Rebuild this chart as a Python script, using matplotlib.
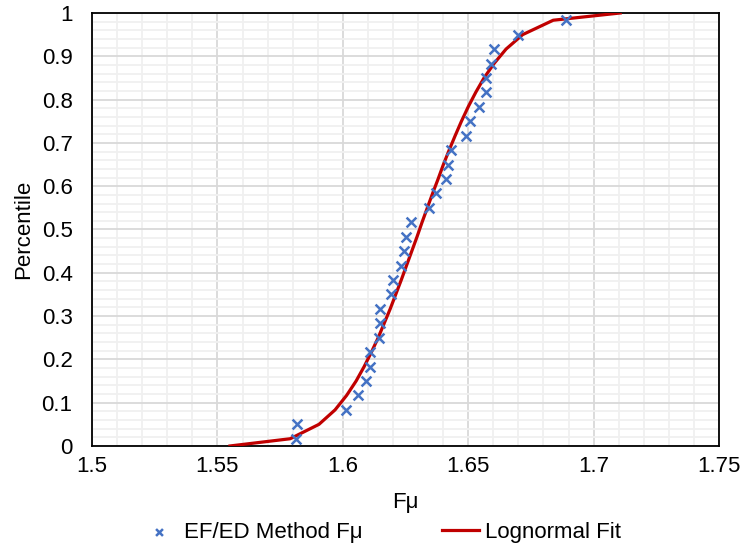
import matplotlib
matplotlib.use("Agg")
import matplotlib.pyplot as plt
from matplotlib.ticker import MultipleLocator

plt.rcParams['font.family'] = ['Liberation Sans', 'DejaVu Sans']

# EF/ED method points
data_fmu = [1.5814, 1.5818, 1.6012, 1.6060, 1.6093, 1.6109, 1.6110, 1.6144, 1.6149, 1.6149,
            1.6193, 1.6201, 1.6233, 1.6242, 1.6250, 1.6272, 1.6342, 1.6371, 1.6412, 1.6421,
            1.6432, 1.6493, 1.6509, 1.6542, 1.6572, 1.6572, 1.6592, 1.6601, 1.6698, 1.6891]
data_pct = [0.0167, 0.05, 0.0833, 0.1167, 0.15, 0.1833, 0.2167, 0.25, 0.2833, 0.3167,
            0.35, 0.3833, 0.4167, 0.45, 0.4833, 0.5167, 0.55, 0.5833, 0.6167, 0.65,
            0.6833, 0.7167, 0.75, 0.7833, 0.8167, 0.85, 0.8833, 0.9167, 0.95, 0.9833]

# lognormal fit line
fit_fmu = [1.555, 1.5790, 1.5905, 1.5969, 1.6015, 1.6053, 1.6085, 1.6114, 1.6141, 1.6165,
           1.6189, 1.6211, 1.6233, 1.6254, 1.6275, 1.6296, 1.6316, 1.6337, 1.6358, 1.6380,
           1.6401, 1.6424, 1.6448, 1.6473, 1.6500, 1.6530, 1.6563, 1.6603, 1.6651, 1.6717,
           1.6839, 1.7106]
fit_pct = [0.0] + data_pct + [1.0]

fig = plt.figure(figsize=(7.41, 5.46), dpi=100)
ax = fig.add_axes([0.1242, 0.1832, 0.8461, 0.793])

ax.plot(fit_fmu, fit_pct, color='#C00000', lw=2.3, label='Lognormal Fit', zorder=3)
ax.scatter(data_fmu, data_pct, marker='x', s=50, color='#4472C4', linewidths=1.8,
           label='EF/ED Method F\u03bc', zorder=4)

ax.set_xlim(1.5, 1.75)
ax.set_ylim(0, 1)
ax.xaxis.set_minor_locator(MultipleLocator(0.01))
ax.yaxis.set_minor_locator(MultipleLocator(0.02))
ax.set_xticks([1.5, 1.55, 1.6, 1.65, 1.7, 1.75], ['1.5', '1.55', '1.6', '1.65', '1.7', '1.75'])
ax.set_yticks([0, 0.1, 0.2, 0.3, 0.4, 0.5, 0.6, 0.7, 0.8, 0.9, 1.0],
              ['0', '0.1', '0.2', '0.3', '0.4', '0.5', '0.6', '0.7', '0.8', '0.9', '1'])
ax.grid(which='major', color='#D9D9D9', lw=1.3)
ax.grid(which='minor', color='#F0F0F0', lw=1.3)
ax.set_axisbelow(True)
ax.tick_params(which='both', length=0, labelsize=16, colors='black')
ax.tick_params(axis='y', pad=14)
ax.tick_params(axis='x', pad=7)
for s in ax.spines.values():
    s.set_color('black')
    s.set_linewidth(1.3)

ax.set_xlabel('F\u03bc', fontsize=16, va='center')
ax.xaxis.set_label_coords(0.5, -0.1316)
ax.set_ylabel('Percentile', fontsize=16, va='center')
ax.yaxis.set_label_coords(-0.1085, 0.5)

h, l = ax.get_legend_handles_labels()
fig.legend(h[::-1], l[::-1], loc='center', bbox_to_anchor=(0.514, 0.0256), ncol=2,
           frameon=False, fontsize=16, columnspacing=3.6, handlelength=1.67,
           handletextpad=0.25, markerscale=0.7, borderaxespad=0, borderpad=0)

fig.savefig('out.png', dpi=100)
